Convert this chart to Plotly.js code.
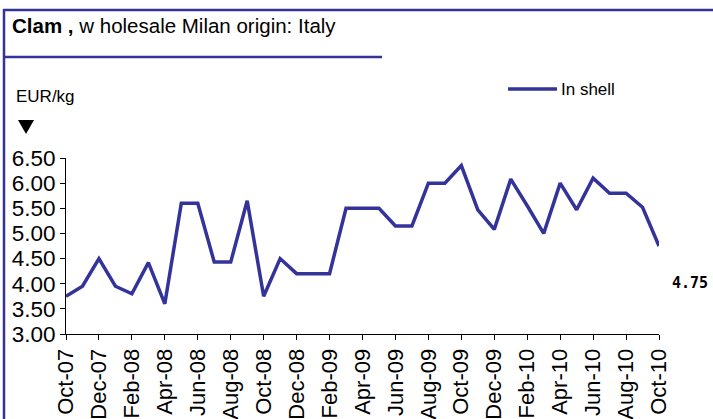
<!DOCTYPE html>
<html>
<head>
<meta charset="utf-8">
<script src="https://cdn.plot.ly/plotly-3.0.1.min.js"></script>
<style>html,body{margin:0;padding:0;background:#fff;}#chart{width:713px;height:419px;}</style>
</head>
<body>
<div id="chart"></div>
<script>
var months = ["Oct-07","Nov-07","Dec-07","Jan-08","Feb-08","Mar-08","Apr-08","May-08","Jun-08","Jul-08","Aug-08","Sep-08",
  "Oct-08","Nov-08","Dec-08","Jan-09","Feb-09","Mar-09","Apr-09","May-09","Jun-09","Jul-09","Aug-09","Sep-09",
  "Oct-09","Nov-09","Dec-09","Jan-10","Feb-10","Mar-10","Apr-10","May-10","Jun-10","Jul-10","Aug-10","Sep-10","Oct-10"];
var inShell = [3.75,3.95,4.50,3.95,3.80,4.42,3.60,5.60,5.60,4.43,4.43,5.65,
  3.75,4.50,4.20,4.20,4.20,5.50,5.50,5.50,5.15,5.15,6.00,6.00,
  6.35,5.47,5.08,6.08,5.55,5.00,6.00,5.47,6.10,5.80,5.80,5.52,4.75];
var tickLabels = ["Oct-07","Dec-07","Feb-08","Apr-08","Jun-08","Aug-08","Oct-08","Dec-08","Feb-09","Apr-09",
  "Jun-09","Aug-09","Oct-09","Dec-09","Feb-10","Apr-10","Jun-10","Aug-10","Oct-10"];
var yTicks = [3.00,3.50,4.00,4.50,5.00,5.50,6.00,6.50];
var seriesName = "In shell";
var titleBold = "Clam ,";
var titleRest = " w holesale Milan origin: Italy";
var unitLabel = "EUR/kg";

var W = 713, H = 419;
var M = {l: 66, r: 54, t: 158, b: 85};
var PW = W - M.l - M.r, PH = H - M.t - M.b;
function px(x){ return (x - M.l) / PW; }
function py(y){ return (H - M.b - y) / PH; }
var blue = "#333399";

var lastVal = inShell[inShell.length - 1];

var layout = {
  width: W, height: H,
  margin: M,
  paper_bgcolor: "#fff", plot_bgcolor: "#fff",
  showlegend: false,
  font: {family: "Liberation Sans, Arial, sans-serif", color: "#000"},
  xaxis: {
    type: "category",
    categoryorder: "array", categoryarray: months,
    range: [0, months.length - 1],
    tickmode: "array", tickvals: tickLabels, ticktext: tickLabels,
    tickangle: -90,
    ticks: "outside", ticklen: 5, tickcolor: "#000", tickwidth: 1,
    showline: true, linecolor: "#000", linewidth: 1,
    showgrid: false, zeroline: false,
    tickfont: {size: 22, family: "Liberation Sans, Arial, sans-serif", color: "#000"},
    fixedrange: true
  },
  yaxis: {
    range: [3, 6.5],
    tickmode: "array", tickvals: yTicks,
    tickformat: ".2f",
    ticks: "outside", ticklen: 5, tickcolor: "#000", tickwidth: 1,
    showline: true, linecolor: "#000", linewidth: 1,
    showgrid: false, zeroline: false,
    tickfont: {size: 22.5, family: "Liberation Sans, Arial, sans-serif", color: "#000"},
    fixedrange: true
  },
  shapes: [
    {type: "line", xref: "paper", yref: "paper", x0: px(3), x1: px(713), y0: py(10), y1: py(10), line: {color: blue, width: 2.5}},
    {type: "line", xref: "paper", yref: "paper", x0: px(4), x1: px(4), y0: py(9), y1: py(419), line: {color: blue, width: 2.5}},
    {type: "line", xref: "paper", yref: "paper", x0: px(3), x1: px(382), y0: py(57), y1: py(57), line: {color: blue, width: 2.5}},
    {type: "path", xref: "paper", yref: "paper",
     path: "M" + px(18) + "," + py(120) + " L" + px(34) + "," + py(120) + " L" + px(26) + "," + py(134) + " Z",
     fillcolor: "#000", line: {color: "#000", width: 0}},
    {type: "line", xref: "paper", yref: "paper", x0: px(508), x1: px(557), y0: py(89), y1: py(89), line: {color: blue, width: 3.5}}
  ],
  annotations: [
    {xref: "paper", yref: "paper", x: px(10), y: py(25), xanchor: "left", yanchor: "middle", showarrow: false,
     text: "<b>" + titleBold + "</b>" + titleRest, font: {size: 20.5, color: "#000"}},
    {xref: "paper", yref: "paper", x: px(14), y: py(96), xanchor: "left", yanchor: "middle", showarrow: false,
     text: unitLabel, font: {size: 17, color: "#000"}},
    {xref: "paper", yref: "paper", x: px(559), y: py(89), xanchor: "left", yanchor: "middle", showarrow: false,
     text: seriesName, font: {size: 17, color: "#000"}},
    {xref: "paper", yref: "paper", x: px(690), y: py(283), xanchor: "center", yanchor: "middle", showarrow: false,
     text: "<b>" + lastVal.toFixed(2) + "</b>", font: {size: 15, family: "DejaVu Sans Mono, monospace", color: "#000"}}
  ]
};

var trace = {
  type: "scatter", mode: "lines", name: seriesName,
  x: months, y: inShell,
  line: {color: blue, width: 3.5},
  cliponaxis: false,
  hoverinfo: "x+y"
};

Plotly.newPlot("chart", [trace], layout, {staticPlot: true, displayModeBar: false});
</script>
</body>
</html>
